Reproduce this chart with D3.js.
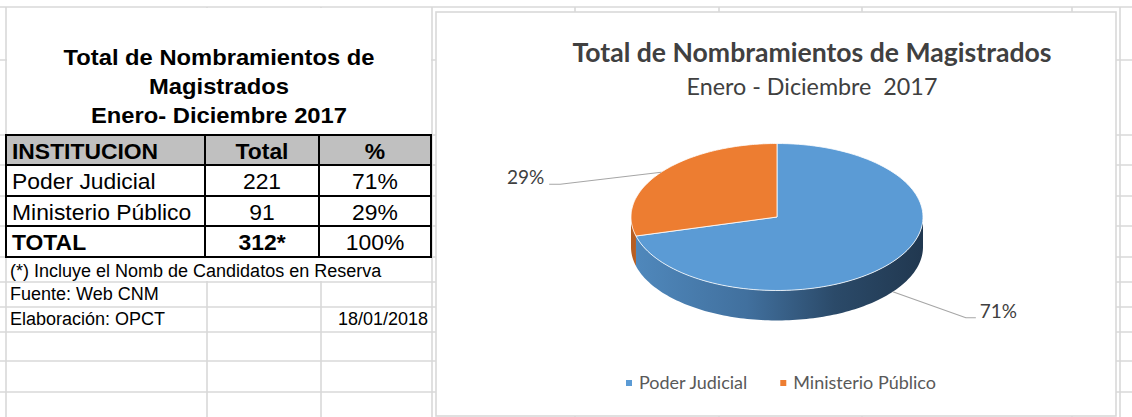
<!DOCTYPE html>
<html><head><meta charset="utf-8">
<script src="https://cdn.jsdelivr.net/npm/d3@7"></script>
<style>html,body{margin:0;padding:0;background:#fff;} svg{display:block;}</style>
</head><body><svg id="c" width="1132" height="417"></svg>
<script>
// ---------- data ----------
const tableTitle = ["Total de Nombramientos de", "Magistrados", "Enero- Diciembre 2017"];
const headers = ["INSTITUCION", "Total", "%"];
const institutions = ["Poder Judicial", "Ministerio Público"];
const totals = [221, 91];
const percentLabels = ["71%", "29%"];
const totalRow = ["TOTAL", "312*", "100%"];
const notes = ["(*) Incluye el Nomb de Candidatos en Reserva", "Fuente: Web CNM", "Elaboración: OPCT"];
const noteDate = "18/01/2018";
const chartTitle = "Total de Nombramientos de Magistrados";
const chartSubtitle = "Enero - Diciembre  2017";
const sliceColors = ["#5B9BD5", "#ED7D31"];
const sideColors = ["url(#sideBlue)", "#b65e23"];

// ---------- layout ----------
const W = 1132, H = 417;
const svg = d3.select("#c");
const gridColor = "#d9d9d9";
const rowLines = [7, 60, 135, 165, 196, 226, 257, 282, 307, 332, 361, 392];
const colLines = [6, 207, 321, 432, 575, 719, 862, 1072, 1120];

// gridlines
svg.append("g").selectAll("line.h").data(rowLines).join("line")
  .attr("x1", 0).attr("x2", W).attr("y1", d => d).attr("y2", d => d)
  .attr("stroke", gridColor).attr("stroke-width", 1.6);
svg.append("g").selectAll("line.v").data(colLines).join("line")
  .attr("x1", d => d).attr("x2", d => d).attr("y1", 7).attr("y2", H)
  .attr("stroke", gridColor).attr("stroke-width", 1.6);

// merged areas (white)
svg.append("rect").attr("x", 7).attr("y", 8).attr("width", 424).attr("height", 127).attr("fill", "#fff");
svg.append("rect").attr("x", 7).attr("y", 258).attr("width", 424).attr("height", 23).attr("fill", "#fff");

// helper for horizontally stretched text
function stext(g, str, x, y, opts) {
  const sx = opts.sx || 1;
  const grp = g.append("g").attr("transform", `translate(${x},${y}) scale(${sx},1)`);
  return grp.append("text").text(str)
    .attr("font-family", "'Liberation Sans', Arial, sans-serif")
    .attr("font-size", opts.size).attr("font-weight", opts.bold ? "bold" : "normal")
    .attr("text-anchor", opts.anchor || "start").attr("fill", "#000");
}

// ---------- left table ----------
const left = svg.append("g");
const titleY = [65, 94, 123];
tableTitle.forEach((t, i) => stext(left, t, 219, titleY[i], {size: 22, bold: true, anchor: "middle", sx: 1.08}));

const tRows = [135, 165, 196, 226, 257];
const tCols = [6, 205, 319, 431];
left.append("rect").attr("x", tCols[0]).attr("y", tRows[0]).attr("width", tCols[3] - tCols[0]).attr("height", tRows[1] - tRows[0]).attr("fill", "#c0c0c0");
left.append("rect").attr("x", tCols[0]).attr("y", tRows[1]).attr("width", tCols[3] - tCols[0]).attr("height", tRows[4] - tRows[1]).attr("fill", "#fff");
tRows.forEach(y => left.append("line").attr("x1", tCols[0] - 1).attr("x2", tCols[3] + 1).attr("y1", y).attr("y2", y).attr("stroke", "#000").attr("stroke-width", 2));
tCols.forEach(x => left.append("line").attr("x1", x).attr("x2", x).attr("y1", tRows[0]).attr("y2", tRows[4]).attr("stroke", "#000").attr("stroke-width", 2));

const colX = [12, 262, 375];
const anchors = ["start", "middle", "middle"];
const rowBase = [159, 189, 220, 250];
const tableRows = [headers,
  [institutions[0], String(totals[0]), percentLabels[0]],
  [institutions[1], String(totals[1]), percentLabels[1]],
  totalRow];
const boldCells = [[true, true, true], [false, false, false], [false, false, false], [true, true, false]];
tableRows.forEach((r, ri) => r.forEach((c, ci) =>
  stext(left, c, colX[ci], rowBase[ri], {size: 22, bold: boldCells[ri][ci], anchor: anchors[ci], sx: 1.04})));

const noteBase = [277, 300, 325];
notes.forEach((n, i) => stext(left, n, 10, noteBase[i], {size: 18}));
stext(left, noteDate, 428, noteBase[2], {size: 18, anchor: "end"});

// ---------- chart ----------
const chart = svg.append("g");
chart.append("rect").attr("x", 436).attr("y", 12).attr("width", 680).attr("height", 404)
  .attr("fill", "#fff").attr("stroke", gridColor).attr("stroke-width", 1.6);

const font = "Lato, 'Open Sans', sans-serif";
chart.append("text").text(chartTitle).attr("x", 812).attr("y", 62).attr("text-anchor", "middle")
  .attr("font-family", font).attr("font-weight", "bold").attr("font-size", 26.6).attr("fill", "#404040");
chart.append("text").text(chartSubtitle).attr("x", 812).attr("y", 95).attr("text-anchor", "middle")
  .attr("font-family", font).attr("font-size", 23.3).attr("fill", "#404040").style("white-space", "pre");

// gradient for blue side
const defs = svg.append("defs");
const gr = defs.append("linearGradient").attr("id", "sideBlue").attr("gradientUnits", "userSpaceOnUse")
  .attr("x1", 630).attr("x2", 922).attr("y1", 0).attr("y2", 0);
[[0, "#5089bd"], [0.4, "#41709e"], [0.7, "#2b4a69"], [1, "#213850"]].forEach(s =>
  gr.append("stop").attr("offset", s[0]).attr("stop-color", s[1]));

const cx = 777, cy = 217, rx = 146, ry = 73.5, depth = 30;
const pt = (a, dz = 0) => [cx + rx * Math.sin(a), cy - ry * Math.cos(a) + dz];
const arcs = d3.pie().sort(null).value(d => d)(totals);
const line = d3.line();
const N = 120;
const samples = (a0, a1, dz) => d3.range(N + 1).map(i => pt(a0 + (a1 - a0) * i / N, dz));

const pieG = chart.append("g");
// side walls (front half only)
arcs.forEach((a, i) => {
  const s = Math.max(a.startAngle, Math.PI / 2), e = Math.min(a.endAngle, 3 * Math.PI / 2);
  if (s < e) {
    const pts = samples(s, e, 0).concat(samples(e, s, depth));
    pieG.append("path").attr("d", line(pts) + "Z").attr("fill", sideColors[i]);
  }
});
// top faces
arcs.forEach((a, i) => {
  const pts = [[cx, cy]].concat(samples(a.startAngle, a.endAngle, 0));
  pieG.append("path").attr("d", line(pts) + "Z").attr("fill", sliceColors[i])
    .attr("stroke", "#fff").attr("stroke-width", 1).attr("stroke-opacity", 0.8).attr("stroke-linejoin", "round");
});

// data labels with leader lines
const labelOffsets = [{ex: 73, ey: 26, len: 10}, {ex: -101, ey: 12, len: -11}];
arcs.forEach((a, i) => {
  const m = (a.startAngle + a.endAngle) / 2;
  const front = Math.cos(m) < 0;
  const p0 = pt(m, front ? depth : 0);
  const o = labelOffsets[i];
  const p1 = [p0[0] + o.ex, p0[1] + o.ey];
  const p2 = [p1[0] + o.len, p1[1]];
  chart.append("path").attr("d", line([p0, p1, p2])).attr("fill", "none")
    .attr("stroke", "#a6a6a6").attr("stroke-width", 1.2);
  const lbl = d3.format(".0%")(a.value / d3.sum(totals));
  chart.append("text").text(lbl)
    .attr("x", p2[0] + (o.len > 0 ? 4 : -5)).attr("y", p2[1])
    .attr("text-anchor", o.len > 0 ? "start" : "end")
    .attr("font-family", font).attr("font-size", 19).attr("fill", "#404040");
});

// legend
const leg = chart.append("g");
let lx = 0;
institutions.forEach((name, i) => {
  const g = leg.append("g");
  g.append("rect").attr("x", 0).attr("y", -3).attr("width", 6).attr("height", 6).attr("fill", sliceColors[i]);
  const t = g.append("text").text(name).attr("x", 13).attr("y", 6)
    .attr("font-family", font).attr("font-size", 18).attr("fill", "#595959");
  const w = 13 + t.node().getComputedTextLength();
  g.attr("transform", `translate(${lx},0)`);
  lx += w + 33;
});
const legW = lx - 33;
leg.attr("transform", `translate(${781 - legW / 2},383)`);
</script>
</body></html>
